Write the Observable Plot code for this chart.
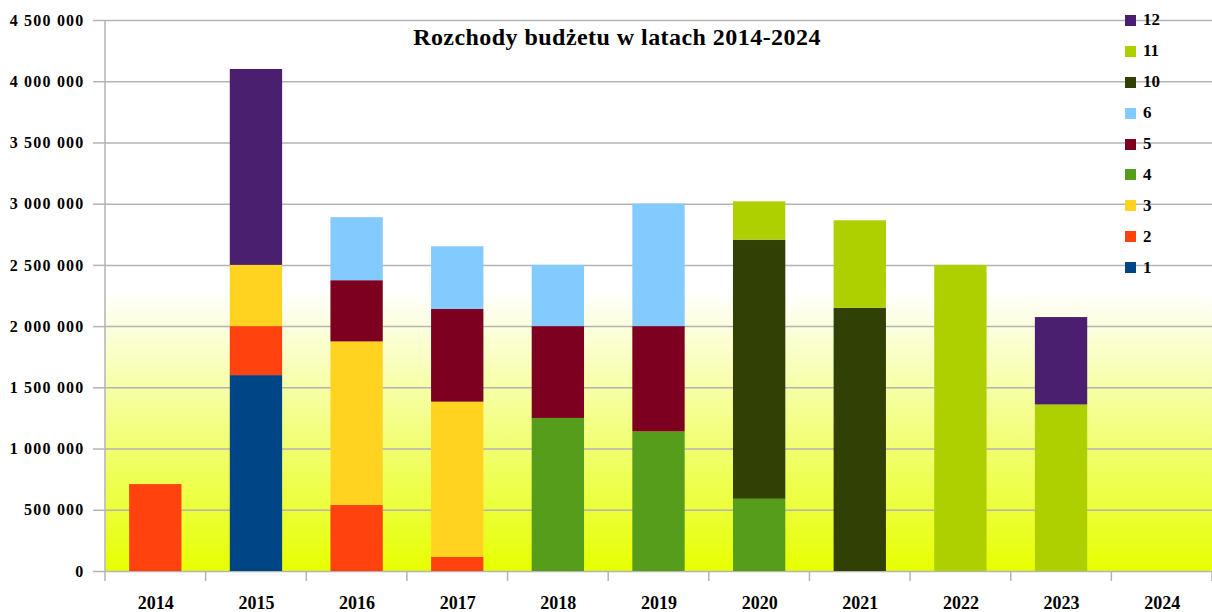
<!DOCTYPE html>
<html>
<head>
<meta charset="utf-8">
<script src="https://cdn.jsdelivr.net/npm/d3@7"></script>
<script src="https://cdn.jsdelivr.net/npm/@observablehq/plot@0.6"></script>
<style>
  body { margin: 0; background: #ffffff; }
  #wrap { position: relative; width: 1212px; height: 612px; overflow: hidden; }
  #legend { position: absolute; left: 1125px; top: 5px; font-family: "Liberation Serif", "Times New Roman", serif; font-weight: bold; font-size: 17px; color: #000; }
  .item { height: 30.9px; display: flex; align-items: center; }
  .sw { width: 11px; height: 11px; margin-right: 7px; flex: none; }
  g[aria-label="y-axis tick label"] { letter-spacing: 1.2px; }
  g[aria-label="text"] { letter-spacing: 0.45px; }
</style>
</head>
<body>
<div id="wrap"><div id="chart"></div><div id="legend"></div></div>
<script>
// ---- data ----
const years = ["2014","2015","2016","2017","2018","2019","2020","2021","2022","2023","2024"];
const seriesNames = ["1","2","3","4","5","6","10","11","12"];
const seriesColors = ["#004586","#ff420e","#ffd320","#579d1c","#7e0021","#83caff","#314004","#aecf00","#4b1f6f"];
const s1  = [0, 1600000, 0, 0, 0, 0, 0, 0, 0, 0, 0];
const s2  = [710000, 400000, 540000, 117000, 0, 0, 0, 0, 0, 0, 0];
const s3  = [0, 500000, 1335000, 1266000, 0, 0, 0, 0, 0, 0, 0];
const s4  = [0, 0, 0, 0, 1250000, 1140000, 590000, 0, 0, 0, 0];
const s5  = [0, 0, 500000, 757000, 750000, 860000, 0, 0, 0, 0, 0];
const s6  = [0, 0, 515000, 512000, 500000, 1000000, 0, 0, 0, 0, 0];
const s10 = [0, 0, 0, 0, 0, 0, 2116000, 2150000, 0, 0, 0];
const s11 = [0, 0, 0, 0, 0, 0, 313000, 714000, 2500000, 1360000, 0];
const s12 = [0, 1600000, 0, 0, 0, 0, 0, 0, 0, 714000, 0];
const yTicks = [0, 500000, 1000000, 1500000, 2000000, 2500000, 3000000, 3500000, 4000000, 4500000];
const title = "Rozchody budżetu w latach 2014-2024";

const seriesValues = [s1, s2, s3, s4, s5, s6, s10, s11, s12];
const rows = [];
seriesNames.forEach((name, si) => {
  years.forEach((yr, yi) => {
    const v = seriesValues[si][yi];
    if (v > 0) rows.push({year: yr, series: name, value: v});
  });
});

const gridColor = "#b3b3b3";
const fmt = v => d3.format(",")(v).replace(/,/g, " ");

function gradientDefs() {
  const defs = d3.create("svg:defs");
  const lg = defs.append("linearGradient").attr("id", "bgGrad")
    .attr("x1", 0).attr("y1", 0).attr("x2", 0).attr("y2", 1);
  lg.append("stop").attr("offset", "0%").attr("stop-color", "#ffffff");
  lg.append("stop").attr("offset", "49%").attr("stop-color", "#ffffff");
  lg.append("stop").attr("offset", "100%").attr("stop-color", "#e6ff00");
  return defs.node();
}

function axisLines(index, scales, values, dim) {
  const g = d3.create("svg:g").attr("stroke", gridColor).attr("stroke-width", 1.5);
  const x0 = dim.marginLeft, x1 = dim.width - dim.marginRight;
  const yb = dim.height - dim.marginBottom, yt = dim.marginTop;
  const step = (x1 - x0) / years.length;
  g.append("line").attr("x1", x0).attr("x2", x0).attr("y1", yt).attr("y2", yb);
  for (let i = 0; i <= years.length; i++) {
    const x = x0 + i * step;
    g.append("line").attr("x1", x).attr("x2", x).attr("y1", yb).attr("y2", yb + 10);
  }
  return g.node();
}

const chart = Plot.plot({
  width: 1212,
  height: 612,
  marginLeft: 105,
  marginRight: 0,
  marginTop: 20,
  marginBottom: 41,
  style: {fontFamily: "'Liberation Serif', 'Times New Roman', serif", fontSize: "16px", fontWeight: "bold", color: "#000", background: "#fff"},
  x: {domain: years, paddingInner: 0.48, paddingOuter: 0.24, round: false, label: null},
  y: {domain: [0, 4500000], label: null},
  color: {domain: seriesNames, range: seriesColors},
  marks: [
    gradientDefs,
    Plot.frame({fill: "url(#bgGrad)", stroke: null}),
    Plot.ruleY(yTicks, {stroke: gridColor, strokeWidth: 1.5}),
    Plot.barY(rows, Plot.stackY({x: "year", y: "value", fill: "series", order: seriesNames})),
    axisLines,
    Plot.axisY({ticks: yTicks, tickSize: 12, tickPadding: 9, tickFormat: fmt, stroke: gridColor, strokeWidth: 1.5, fill: "#000", fontSize: 16, label: null}),
    Plot.axisX({tickSize: 0, tickPadding: 25, fontSize: 18, fill: "#000", label: null}),
    Plot.text([title], {frameAnchor: "top", dx: -42, dy: 24, lineAnchor: "bottom", fontSize: 24, fontWeight: "bold", fill: "#000"})
  ]
});
document.getElementById("chart").appendChild(chart);

// legend (top item = last series)
const legend = document.getElementById("legend");
seriesNames.slice().reverse().forEach(name => {
  const i = seriesNames.indexOf(name);
  const item = document.createElement("div");
  item.className = "item";
  const sw = document.createElement("span");
  sw.className = "sw";
  sw.style.background = seriesColors[i];
  const t = document.createElement("span");
  t.textContent = name;
  item.appendChild(sw); item.appendChild(t);
  legend.appendChild(item);
});
</script>
</body>
</html>
